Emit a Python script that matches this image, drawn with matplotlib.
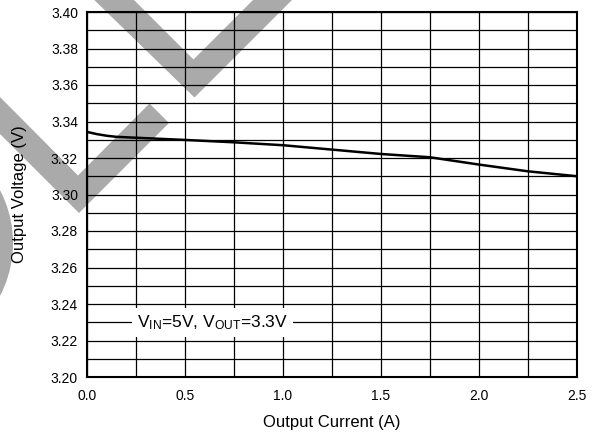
import numpy as np
import matplotlib
matplotlib.use('Agg')
import matplotlib.pyplot as plt
from matplotlib.patches import Polygon, Circle
from matplotlib.ticker import MultipleLocator, FormatStrFormatter

plt.rcParams['font.family'] = ['Liberation Sans', 'DejaVu Sans']
plt.rcParams['mathtext.fontset'] = 'custom'
plt.rcParams['mathtext.rm'] = 'Liberation Sans'
plt.rcParams['mathtext.it'] = 'Liberation Sans'

# ---------------------------------------------------------------- datos
corriente = [0.0, 0.05, 0.10, 0.15, 0.25, 0.50, 0.75, 1.00,
             1.25, 1.50, 1.75, 2.00, 2.25, 2.50]
voltaje = [3.3343, 3.3331, 3.3322, 3.3316, 3.3311, 3.3299, 3.3286, 3.3270,
           3.3246, 3.3222, 3.3204, 3.3164, 3.3127, 3.3100]
XLIM = (0.0, 2.5)
YLIM = (3.20, 3.40)
nota = r'V$_{\mathrm{IN}}$=5V, V$_{\mathrm{OUT}}$=3.3V'
nota_pos = (0.64, 3.2273)

GRIS = '#aaaaaa'
W, H = 598, 434

fig = plt.figure(figsize=(W / 100, H / 100), dpi=100)

# fondo: marca de agua gris (coordenadas en píxeles de la figura)
bg = fig.add_axes([0, 0, 1, 1], zorder=-1)
bg.set_xlim(0, W)
bg.set_ylim(H, 0)
bg.axis('off')
v1 = [(84, -10), (194.5, 97.5), (302, -10), (263, -10), (193.5, 59.5), (124, -10)]
v2 = [(-10, 87), (78, 175.5), (149.5, 103.5), (169, 123), (79, 213), (-10, 124)]
for pts in (v1, v2):
    bg.add_patch(Polygon(pts, closed=True, fc=GRIS, ec='none'))
bg.add_patch(Circle((-101.5, 243), 114.5, fc=GRIS, ec='none'))

# ---------------------------------------------------------------- gráfico
ax = fig.add_axes([87 / W, 1 - 377 / H, 490 / W, 365 / H])
ax.set_facecolor('none')
ax.plot(corriente, voltaje, '-', color='black', lw=1.8, zorder=3)

ax.set_xlim(*XLIM)
ax.set_ylim(*YLIM)
ax.xaxis.set_major_locator(MultipleLocator(0.5))
ax.xaxis.set_minor_locator(MultipleLocator(0.25))
ax.yaxis.set_major_locator(MultipleLocator(0.02))
ax.yaxis.set_minor_locator(MultipleLocator(0.01))
ax.xaxis.set_major_formatter(FormatStrFormatter('%.1f'))
ax.yaxis.set_major_formatter(FormatStrFormatter('%.2f'))
ax.tick_params(which='both', length=0)
ax.tick_params(axis='x', pad=9, labelsize=10)
ax.tick_params(axis='y', pad=6.5, labelsize=10)
ax.grid(which='both', color='black', lw=0.9)
ax.set_axisbelow(True)
for s in ax.spines.values():
    s.set_linewidth(1.5)
    s.set_zorder(4)

ax.text(*nota_pos, nota, ha='center', va='baseline', fontsize=12.5, zorder=5,
        bbox=dict(boxstyle='square,pad=0.3', fc='white', ec='none'))

ax.set_xlabel('Output Current (A)', fontsize=12)
ax.set_ylabel('Output Voltage (V)', fontsize=12)
ax.xaxis.set_label_coords(0.5, -(415 - 377) / 365)
ax.yaxis.set_label_coords((27 - 87) / 490, 0.5)

fig.savefig('out.png', dpi=100)
